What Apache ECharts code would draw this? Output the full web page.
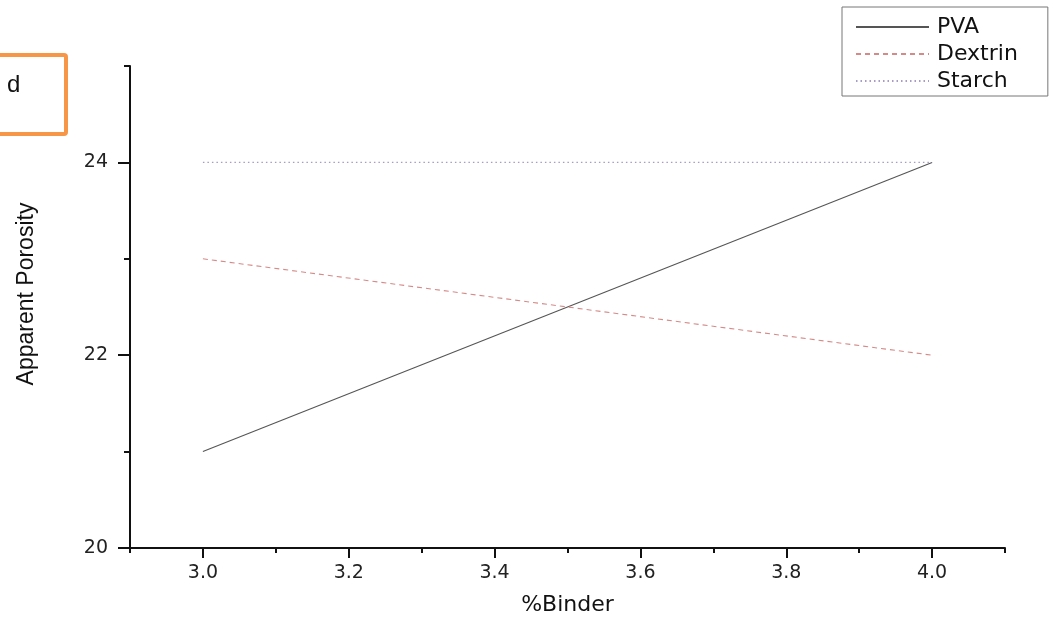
<!DOCTYPE html>
<html>
<head>
<meta charset="utf-8">
<script src="https://cdn.jsdelivr.net/npm/echarts@6/dist/echarts.min.js"></script>
<style>
html,body{margin:0;padding:0;background:#fff;}
#chart{width:1049px;height:621px;}
</style>
</head>
<body>
<div id="chart"></div>
<script>
const binder = [3.0, 4.0];
const pva = [21, 24];
const dextrin = [23, 22];
const starch = [24, 24];
const seriesNames = ['PVA', 'Dextrin', 'Starch'];
const xTicks = [3.0, 3.2, 3.4, 3.6, 3.8, 4.0];
const xMinorTicks = [2.9, 3.1, 3.3, 3.5, 3.7, 3.9, 4.1];
const yTicks = [20, 22, 24];
const yMinorTicks = [21, 23, 25];
const panelLabel = 'd';

const pair = (xs, ys) => xs.map((x, i) => [x, ys[i]]);

const chart = echarts.init(document.getElementById('chart'), null, { renderer: 'canvas' });
chart.setOption({
  animation: false,
  backgroundColor: '#fff',
  grid: { left: 130, right: 44, top: 66, bottom: 71 },
  legend: {
    data: seriesNames,
    orient: 'vertical',
    left: 842,
    top: 7,
    padding: [9, 30, 4, 13],
    itemGap: 5,
    itemWidth: 73,
    itemHeight: 14,
    borderColor: '#777',
    borderWidth: 1,
    itemStyle: { opacity: 0 },
    textStyle: { fontFamily: 'DejaVu Sans', fontSize: 22, color: '#111', padding: [0, 0, 0, 3] }
  },
  xAxis: [
    {
      type: 'value', min: 2.9, max: 4.1, position: 'bottom',
      name: '%Binder', nameLocation: 'middle', nameGap: 46,
      nameTextStyle: { fontFamily: 'DejaVu Sans', fontSize: 22, color: '#111' },
      axisLine: { onZero: false, lineStyle: { color: '#111', width: 2 } },
      axisTick: { customValues: xTicks, length: 10, lineStyle: { color: '#111', width: 2 } },
      axisLabel: { customValues: xTicks, margin: 16, formatter: v => v.toFixed(1),
        fontFamily: 'DejaVu Sans', fontSize: 19, color: '#222' },
      splitLine: { show: false }
    },
    {
      type: 'value', min: 2.9, max: 4.1, position: 'bottom',
      axisLine: { show: false, onZero: false },
      axisTick: { customValues: xMinorTicks, length: 5, lineStyle: { color: '#111', width: 2 } },
      axisLabel: { show: false },
      splitLine: { show: false }
    }
  ],
  yAxis: [
    {
      type: 'value', min: 20, max: 25, position: 'left',
      name: 'Apparent Porosity', nameLocation: 'middle', nameGap: 92,
      nameTextStyle: { fontFamily: 'Liberation Sans', fontSize: 23, color: '#111', padding: [0, 0, 0, 26] },
      axisLine: { onZero: false, lineStyle: { color: '#111', width: 2 } },
      axisTick: { customValues: yTicks, length: 12, lineStyle: { color: '#111', width: 2 } },
      axisLabel: { customValues: yTicks, margin: 22,
        fontFamily: 'DejaVu Sans', fontSize: 19, color: '#222' },
      splitLine: { show: false }
    },
    {
      type: 'value', min: 20, max: 25, position: 'left',
      axisLine: { show: false, onZero: false },
      axisTick: { customValues: yMinorTicks, length: 6, lineStyle: { color: '#111', width: 2 } },
      axisLabel: { show: false },
      splitLine: { show: false }
    }
  ],
  series: [
    {
      name: seriesNames[0], type: 'line', data: pair(binder, pva),
      symbol: 'none', xAxisIndex: 0, yAxisIndex: 0,
      lineStyle: { color: '#555', width: 1.1, type: 'solid' },
      itemStyle: { color: '#555' }
    },
    {
      name: seriesNames[1], type: 'line', data: pair(binder, dextrin),
      symbol: 'none', xAxisIndex: 0, yAxisIndex: 0,
      lineStyle: { color: '#d48a88', width: 1.1, type: [5, 4] },
      itemStyle: { color: '#d48a88' }
    },
    {
      name: seriesNames[2], type: 'line', data: pair(binder, starch),
      symbol: 'none', xAxisIndex: 0, yAxisIndex: 0,
      lineStyle: { color: '#a79cc6', width: 1.2, type: [1.5, 3] },
      itemStyle: { color: '#a79cc6' }
    }
  ],
  graphic: [
    {
      type: 'rect', left: -8, top: 53,
      shape: { width: 72, height: 79, r: 2 },
      style: { fill: '#fff', stroke: '#f79646', lineWidth: 4 }
    },
    {
      type: 'text', left: 7, top: 73,
      style: { text: panelLabel, fontFamily: 'Liberation Sans', fontSize: 24, fill: '#111' }
    }
  ]
});
</script>
</body>
</html>
